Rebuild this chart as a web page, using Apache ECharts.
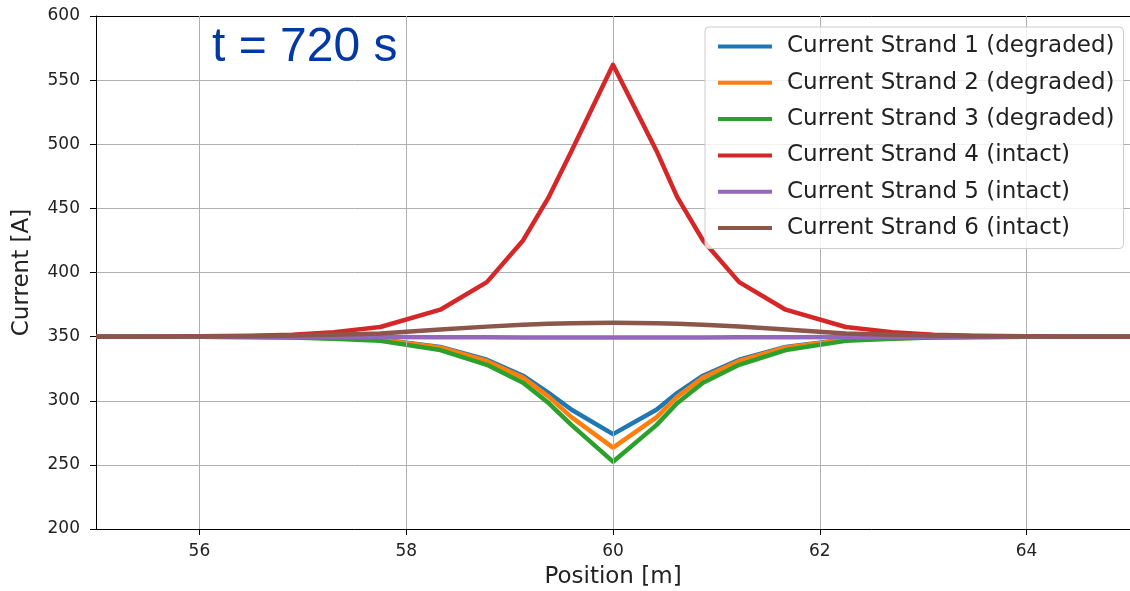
<!DOCTYPE html>
<html>
<head>
<meta charset="utf-8">
<script src="https://cdn.jsdelivr.net/npm/echarts@6/dist/echarts.min.js"></script>
<style>
html,body{margin:0;padding:0;background:#fff;overflow:hidden;}
#chart{width:1130px;height:591px;}
</style>
</head>
<body>
<div id="chart"></div>
<script>
// Position [m]
var positions = [55, 55.5, 56, 56.5, 56.9, 57.3, 57.75, 58.33, 58.78, 59.13, 59.38, 59.6, 60, 60.42, 60.62, 60.87, 61.22, 61.67, 62.25, 62.7, 63.1, 63.5, 64, 64.5, 65];
// Current [A] per strand
var strand1 = [350, 350, 349.9, 349.8, 349.6, 349, 347.8, 342, 332, 319.5, 306, 293, 274, 293, 306, 319.5, 332, 342, 347.8, 349, 349.6, 349.8, 349.9, 350, 350];
var strand2 = [350, 350, 349.9, 349.8, 349.5, 348.8, 347.5, 341.5, 331, 318, 303, 287, 263.5, 287, 303, 318, 331, 341.5, 347.5, 348.8, 349.5, 349.8, 349.9, 350, 350];
var strand3 = [350, 350, 349.9, 349.7, 349.3, 348.4, 346.7, 339.5, 328, 314, 298, 281, 252.5, 281, 298, 314, 328, 339.5, 346.7, 348.4, 349.3, 349.7, 349.9, 350, 350];
var strand4 = [350, 350, 350.2, 350.6, 351.5, 353.5, 357.5, 371, 392.5, 425, 459, 495, 562, 495, 459, 425, 392.5, 371, 357.5, 353.5, 351.5, 350.6, 350.2, 350, 350];
var strand5 = [350, 350, 350, 350, 349.9, 349.8, 349.7, 349.6, 349.5, 349.4, 349.4, 349.3, 349.3, 349.3, 349.4, 349.4, 349.5, 349.6, 349.7, 349.8, 349.9, 350, 350, 350, 350];
var strand6 = [350, 350, 350.1, 350.3, 350.8, 351.5, 352.5, 355.5, 357.8, 359.3, 360, 360.5, 360.8, 360.5, 360, 359.3, 357.8, 355.5, 352.5, 351.5, 350.8, 350.3, 350.1, 350, 350];

var seriesNames = ['Current Strand 1 (degraded)', 'Current Strand 2 (degraded)', 'Current Strand 3 (degraded)', 'Current Strand 4 (intact)', 'Current Strand 5 (intact)', 'Current Strand 6 (intact)'];
var seriesColors = ['#1f77b4', '#ff7f0e', '#2ca02c', '#d62728', '#9467bd', '#8c564b'];
var xTicks = [56, 58, 60, 62, 64];
var yMin = 200, yMax = 600, yStep = 50;
var xMin = 55, xMax = 65;
var titleText = 't = 720 s';

var allData = [strand1, strand2, strand3, strand4, strand5, strand6];
var font = 'DejaVu Sans';
var textColor = '#222';

function pairs(vals) {
  return positions.map(function (x, i) { return [x, vals[i]]; });
}

var series = [{
  type: 'line',
  name: '__grid',
  data: [],
  z: 1,
  silent: true,
  markLine: {
    silent: true,
    symbol: 'none',
    label: {show: false},
    animation: false,
    lineStyle: {color: '#b0b0b0', width: 1, type: 'solid'},
    data: xTicks.map(function (v) { return {xAxis: v}; })
  }
}];
allData.forEach(function (d, i) {
  series.push({
    type: 'line',
    name: seriesNames[i],
    data: pairs(d),
    showSymbol: false,
    symbol: 'none',
    z: 2 + i,
    color: seriesColors[i],
    lineStyle: {color: seriesColors[i], width: 4.5, join: 'round', cap: 'butt'},
    itemStyle: {color: seriesColors[i]}
  });
});

var chart = echarts.init(document.getElementById('chart'), null, {renderer: 'canvas'});
chart.setOption({
  animation: false,
  grid: {left: 96, top: 16, right: 0, bottom: 62, show: false, containLabel: false, outerBoundsMode: 'none'},
  graphic: [{
    type: 'text',
    left: 212,
    top: 24,
    z: 10,
    style: {text: titleText, font: '48px "Liberation Sans"', fill: '#0039a6'}
  }],
  legend: {
    data: seriesNames,
    orient: 'vertical',
    left: 705,
    top: 27,
    padding: [7, 9, 8, 13],
    itemWidth: 54,
    itemHeight: 4,
    itemGap: 11.3,
    icon: 'rect',
    backgroundColor: 'rgba(255,255,255,0.8)',
    borderColor: '#cccccc',
    borderWidth: 1,
    borderRadius: 4,
    z: 20,
    textStyle: {fontFamily: font, fontSize: 23, color: textColor, lineHeight: 25, padding: [0, 0, 0, 10]}
  },
  xAxis: [{
    type: 'value',
    min: xMin,
    max: xMax,
    name: 'Position [m]',
    nameLocation: 'middle',
    nameGap: 37,
    nameTextStyle: {fontFamily: font, fontSize: 23, color: textColor},
    axisLine: {show: true, onZero: false, lineStyle: {color: '#000', width: 1}},
    axisTick: {show: true, customValues: xTicks, length: 6, lineStyle: {color: '#000', width: 1}},
    axisLabel: {customValues: xTicks, margin: 14, fontFamily: font, fontSize: 17, color: textColor},
    splitLine: {show: false}
  }, {
    type: 'value',
    position: 'top',
    min: xMin,
    max: xMax,
    axisLine: {show: true, onZero: false, lineStyle: {color: '#000', width: 1}},
    axisTick: {show: false},
    axisLabel: {show: false},
    splitLine: {show: false}
  }],
  yAxis: {
    type: 'value',
    min: yMin,
    max: yMax,
    interval: yStep,
    name: 'Current [A]',
    nameLocation: 'middle',
    nameGap: 62,
    nameTextStyle: {fontFamily: font, fontSize: 23, color: textColor},
    axisLine: {show: true, onZero: false, lineStyle: {color: '#000', width: 1}},
    axisTick: {show: true, length: 6, lineStyle: {color: '#000', width: 1}},
    axisLabel: {margin: 16, fontFamily: font, fontSize: 17, color: textColor},
    splitLine: {show: true, lineStyle: {color: '#b0b0b0', width: 1}}
  },
  series: series
});
</script>
</body>
</html>
